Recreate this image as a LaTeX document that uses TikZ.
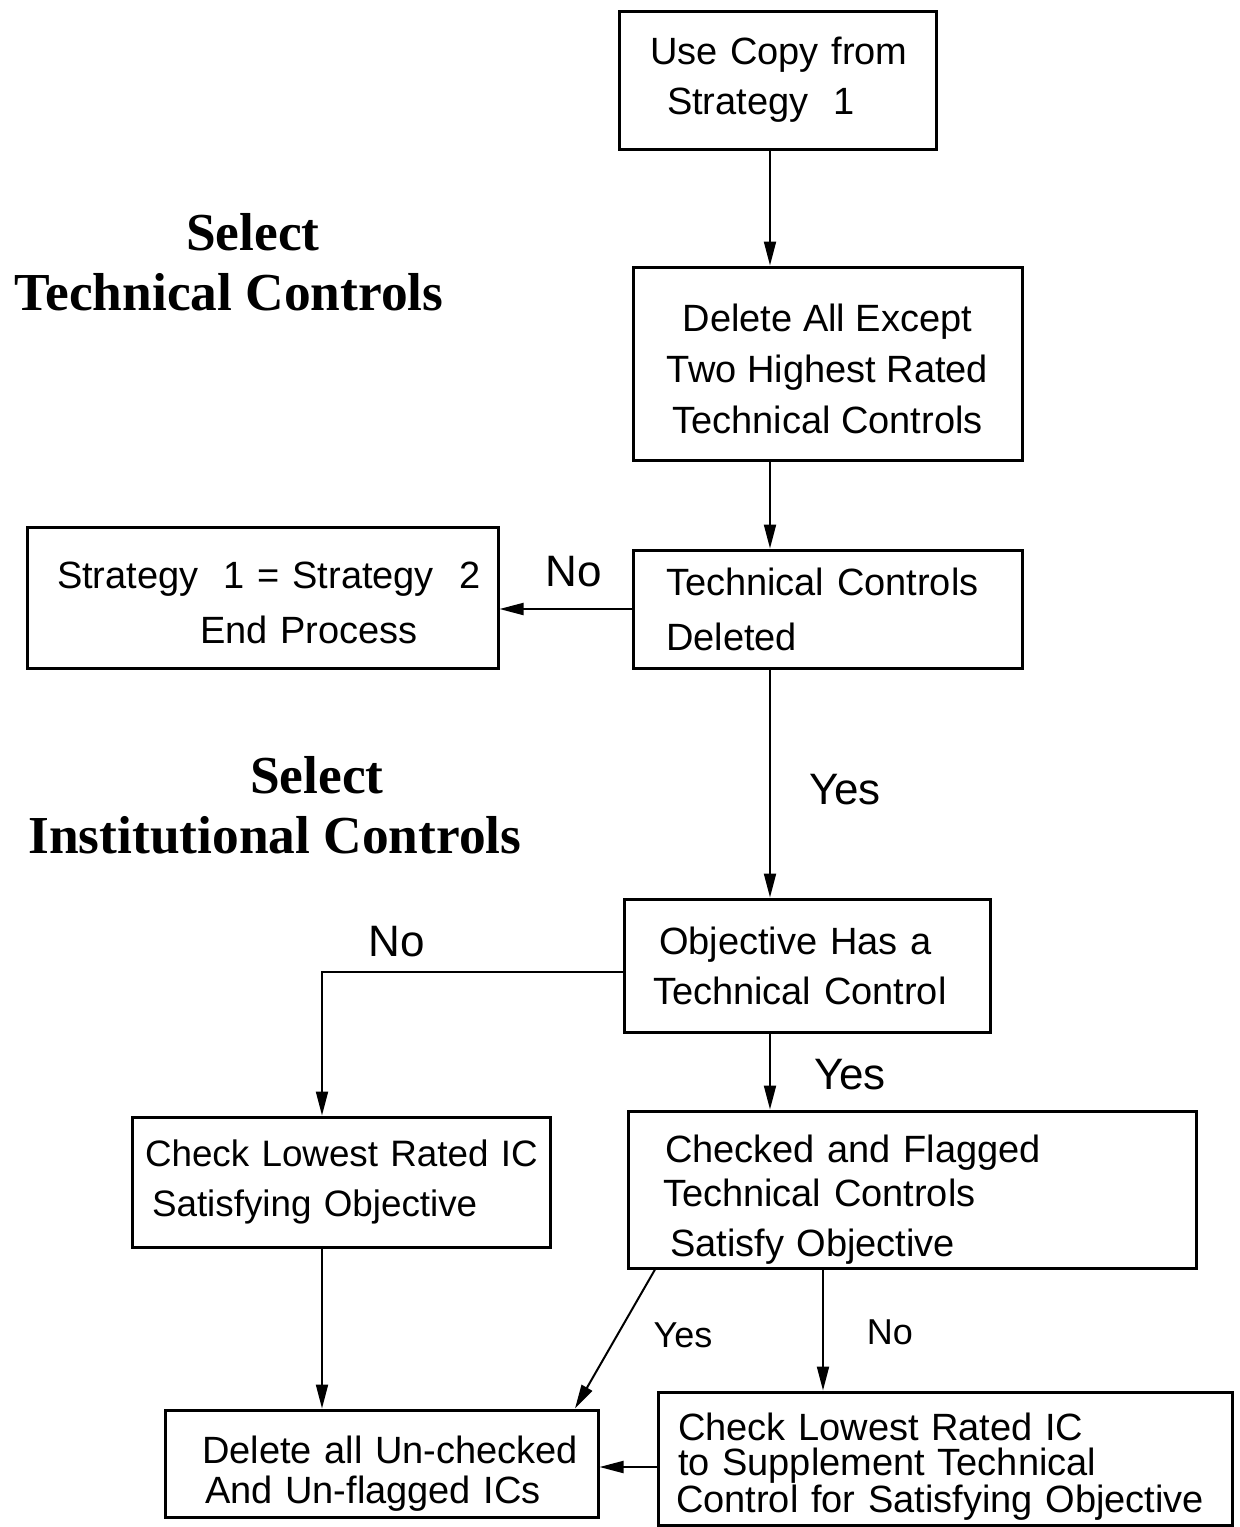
\documentclass[tikz,border=0pt]{standalone}
\usepackage{fontspec}
\setmainfont{Liberation Sans}
\newfontfamily\headfont{Liberation Serif}
\usetikzlibrary{arrows.meta}
\begin{document}
\begin{tikzpicture}[x=0.5pt,y=-0.5pt,
  box/.style={draw, line width=1.5pt, rectangle, inner sep=0pt},
  boxfont/.style={font=\fontsize{19}{#1}\selectfont},
  arr/.style={line width=1pt, -{Triangle[length=12pt,width=6pt]}},
  lblbig/.style={inner sep=0pt, font=\fontsize{22}{26}\selectfont},
  lblsmall/.style={inner sep=0pt, font=\fontsize{18}{22}\selectfont},
  heading/.style={inner sep=0pt, align=center, font=\headfont\bfseries\fontsize{26.7}{30}\selectfont}]
\useasboundingbox (0,0) rectangle (1240,1527);

% headings
\node[heading] (h1) at (229,262) {\hspace*{24pt}Select\\Technical Controls};
\node[heading] (h2) at (275,805) {\hspace*{42pt}Select\\Institutional Controls};

% boxes
\node[box, boxfont=25pt, minimum width=158.5pt, minimum height=69pt, text width=127.5pt, align=left] (b1) at (777.5,80)
  {\mbox{Use Copy from}\\\hspace*{8.5pt}\mbox{Strategy\ \ 1}};
\node[box, boxfont=25.5pt, minimum width=194.5pt, minimum height=96.5pt, align=center] (b2) at (827.5,363.5)
  {\rule{0pt}{19pt}Delete All Except\\Two Highest Rated\\Technical Controls};
\node[box, boxfont=27.5pt, minimum width=194.5pt, minimum height=59pt, text width=161.5pt, align=left] (b3) at (827.5,609)
  {\mbox{Technical Controls}\\\mbox{Deleted}};
\node[box, boxfont=27.5pt, minimum width=235.5pt, minimum height=70.5pt, text width=205.5pt, align=left] (b4) at (262.5,597.5)
  {\rule{0pt}{19pt}\mbox{Strategy\ \ 1 = Strategy\ \ 2}\\\hspace*{71.5pt}\mbox{End Process}};
\node[box, boxfont=25pt, minimum width=183pt, minimum height=66.5pt, text width=154pt, align=left] (b5) at (807,965.5)
  {\hspace*{3pt}\mbox{Objective Has a}\\\mbox{Technical Control}};
\node[box, font=\fontsize{18.4}{25}\selectfont, minimum width=209pt, minimum height=65pt, text width=196pt, align=left] (b6) at (341,1182)
  {\mbox{Check Lowest Rated IC}\\\hspace*{3.5pt}\mbox{Satisfying Objective}};
\node[box, boxfont=22pt, minimum width=284pt, minimum height=78.5pt, text width=249pt, align=left] (b7) at (912,1189.5)
  {\rule{0pt}{24pt}\hspace*{1pt}\mbox{Checked and Flagged}\\\mbox{Technical Controls}\\[3pt]\hspace*{3.5pt}\mbox{Satisfy Objective}};
\node[box, boxfont=20pt, minimum width=216.5pt, minimum height=53.5pt, text width=179.5pt, align=left] (b8) at (381.5,1463.5)
  {\rule{0pt}{24pt}\mbox{Delete all Un-checked}\\\hspace*{1.5pt}\mbox{And Un-flagged ICs}};
\node[box, boxfont=17.5pt, minimum width=287pt, minimum height=66.5pt, text width=269pt, align=left] (b9) at (945,1458.5)
  {\rule{0pt}{22pt}\hspace*{1pt}\mbox{Check Lowest Rated IC}\\\hspace*{1pt}\mbox{to Supplement Technical}\\\mbox{Control for Satisfying Objective}};

% helper coordinates
\coordinate (trunk) at (770,0);
\coordinate (left) at (322,972);
\coordinate (dA) at (655,0);
\coordinate (dB) at (575,0);
\coordinate (noB) at (823,0);
\coordinate (yb) at (0,1467);

% connectors
\draw[arr] (b1.south -| trunk) -- (b2.north -| trunk);
\draw[arr] (b2.south -| trunk) -- (b3.north -| trunk);
\draw[arr] (b3.west) -- (b4.east |- b3.west);
\draw[arr] (b3.south -| trunk) -- (b5.north -| trunk);
\draw[arr] (b5.west |- left) -| (b6.north -| left);
\draw[arr] (b5.south -| trunk) -- (b7.north -| trunk);
\draw[arr] (b7.south -| dA) -- (b8.north -| dB);
\draw[arr] (b7.south -| noB) -- (b9.north -| noB);
\draw[arr] (b6.south -| left) -- (b8.north -| left);
\draw[arr] (b9.west |- yb) -- (b8.east |- yb);

% labels
\node[lblbig] (l1) at (574,572) {No};
\node[lblbig] (l2) at (845,790) {Yes};
\node[lblbig] (l3) at (397,942) {No};
\node[lblbig] (l4) at (850,1075) {Yes};
\node[lblsmall] (l5) at (683,1335) {Yes};
\node[lblsmall] (l6) at (890,1332) {No};
\end{tikzpicture}
\end{document}
